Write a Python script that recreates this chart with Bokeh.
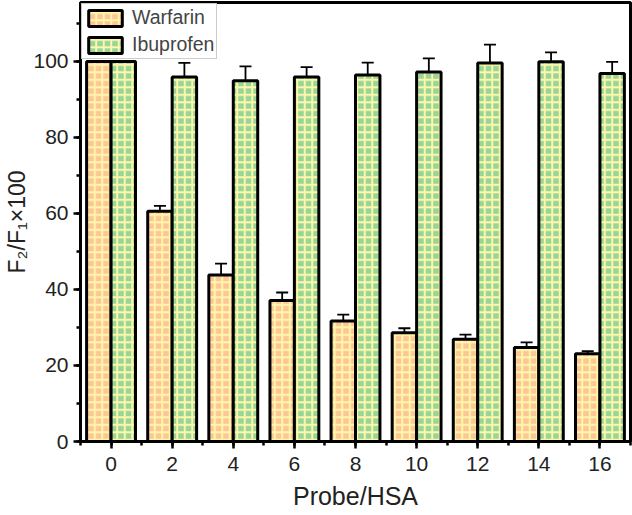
from bokeh.plotting import figure
from bokeh.models import ColumnDataSource, Whisker, TeeHead, SingleIntervalTicker, Range1d, Legend, LegendItem
from bokeh.transform import dodge
from bokeh.embed import file_html
from bokeh.resources import INLINE

probe = [0, 2, 4, 6, 8, 10, 12, 14, 16]
warfarin = [100, 60.6, 43.8, 37.1, 31.7, 28.6, 26.9, 24.7, 23.1]
warfarin_err = [0, 1.4, 3.0, 2.1, 1.7, 1.2, 1.2, 1.4, 0.7]
ibuprofen = [100, 95.9, 94.9, 95.9, 96.4, 97.2, 99.6, 99.9, 96.8]
ibuprofen_err = [0, 3.7, 3.8, 2.6, 3.3, 3.6, 4.8, 2.5, 3.1]

src = ColumnDataSource(dict(
    probe=probe, w=warfarin, wu=[a + b for a, b in zip(warfarin, warfarin_err)],
    ib=ibuprofen, iu=[a + b for a, b in zip(ibuprofen, ibuprofen_err)],
))

FONT = "Liberation Sans"

p = figure(width=632, height=515, output_backend="svg", toolbar_location=None,
           x_range=Range1d(-1, 17), y_range=Range1d(0, 115.5),
           min_border_left=80, min_border_right=2, min_border_top=2, min_border_bottom=74)
p.grid.visible = False
p.outline_line_color = "black"
p.outline_line_width = 3
p.background_fill_color = "white"

bw = 0.8
r1 = p.vbar(x=dodge("probe", -bw / 2), top="w", width=bw, source=src,
            fill_color="#FDC697", line_color="black", line_width=3,
            hatch_pattern="+", hatch_color="#FFF6AA", hatch_scale=7.5, hatch_weight=2)
r2 = p.vbar(x=dodge("probe", bw / 2), top="ib", width=bw, source=src,
            fill_color="#96D698", line_color="black", line_width=3,
            hatch_pattern="+", hatch_color="#FFF6AA", hatch_scale=7.5, hatch_weight=2)

for base, lo, up in [(dodge("probe", -bw / 2), "w", "wu"), (dodge("probe", bw / 2), "ib", "iu")]:
    wk = Whisker(base=base, lower=lo, upper=up, source=src, line_color="black", line_width=1.8,
                 lower_head=None,
                 upper_head=TeeHead(size=12, line_width=1.8, line_color="black"))
    p.add_layout(wk)

for ax in (p.xaxis[0], p.yaxis[0]):
    ax.axis_line_width = 3
    ax.major_tick_line_width = 2.5
    ax.minor_tick_line_width = 2.5
    ax.major_tick_out = 7
    ax.major_tick_in = 0
    ax.minor_tick_out = 4
    ax.minor_tick_in = 0
    ax.major_label_text_font = FONT
    ax.major_label_text_font_size = "21px"
    ax.major_label_text_color = "#222222"
    ax.axis_label_text_font = FONT
    ax.axis_label_text_font_style = "normal"
    ax.axis_label_text_color = "#222222"

p.xaxis.axis_label_text_font_size = "25px"
p.yaxis.axis_label_text_font_size = "23px"
p.xaxis.ticker = SingleIntervalTicker(interval=2, num_minor_ticks=2)
p.yaxis.ticker = SingleIntervalTicker(interval=20, num_minor_ticks=2)
p.xaxis.axis_label = "Probe/HSA"
p.yaxis.axis_label = "F₂/F₁×100"
p.xaxis.major_label_standoff = 8
p.xaxis.axis_label_standoff = 8
p.yaxis.major_label_standoff = 5
p.yaxis.axis_label_standoff = 0

legend = Legend(items=[LegendItem(label="Warfarin", renderers=[r1]),
                       LegendItem(label="Ibuprofen", renderers=[r2])],
                location="top_left", margin=1, padding=2, spacing=4,
                glyph_width=42, glyph_height=20, label_height=20,
                label_text_font=FONT, label_text_font_size="19.5px",
                label_text_line_height=1.0,
                border_line_color="#999999", border_line_width=1,
                label_standoff=6)
p.add_layout(legend)

open("out.html", "w").write(file_html(p, INLINE))
